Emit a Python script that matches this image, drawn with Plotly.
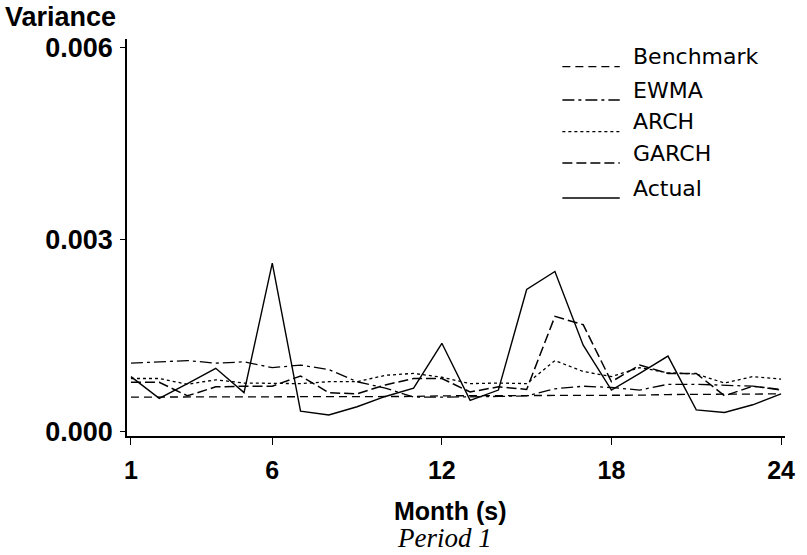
import plotly.graph_objects as go

# Monthly variance forecasts vs. realised variance, period 1
months = list(range(1, 25))

benchmark = [0.00054, 0.00054, 0.00054, 0.00054, 0.00054, 0.00054, 0.00055, 0.00055,
             0.00055, 0.00055, 0.00055, 0.00056, 0.00056, 0.00056, 0.00056, 0.00057,
             0.00057, 0.00057, 0.00057, 0.00058, 0.00058, 0.00058, 0.00059, 0.00059]
ewma = [0.00107, 0.00109, 0.00111, 0.00107, 0.00109, 0.00100, 0.00104, 0.00097,
        0.00078, 0.00068, 0.00054, 0.00054, 0.00054, 0.00055, 0.00056, 0.00067,
        0.00071, 0.00069, 0.00065, 0.00074, 0.00074, 0.00073, 0.00071, 0.00065]
arch = [0.00083, 0.00083, 0.00074, 0.00081, 0.00076, 0.00076, 0.00075, 0.00078,
        0.00078, 0.00088, 0.00091, 0.00085, 0.00075, 0.00076, 0.00075, 0.00111,
        0.00094, 0.00086, 0.00100, 0.00092, 0.00090, 0.00076, 0.00086, 0.00082]
garch = [0.00077, 0.00077, 0.00056, 0.00070, 0.00071, 0.00071, 0.00087, 0.00061,
         0.00059, 0.00073, 0.00083, 0.00083, 0.00062, 0.00070, 0.00066, 0.00180,
         0.00167, 0.00078, 0.00104, 0.00091, 0.00091, 0.00056, 0.00071, 0.00066]
actual = [0.00086, 0.00052, 0.00075, 0.00099, 0.00061, 0.00263, 0.00032, 0.00026,
          0.00039, 0.00055, 0.00068, 0.00138, 0.00049, 0.00065, 0.00222, 0.00250,
          0.00135, 0.00065, 0.00091, 0.00118, 0.00034, 0.00030, 0.00042, 0.00059]

series_names = ["Benchmark", "EWMA", "ARCH", "GARCH", "Actual"]
series_values = [benchmark, ewma, arch, garch, actual]
series_dash = ["8px,5px", "12px,4px,3px,4px", "3px,3px", "10px,4px", "solid"]
series_width = [1.3, 1.3, 1.3, 1.5, 1.4]

x_ticks = [1, 6, 12, 18, 24]
y_ticks = [0.0, 0.003, 0.006]
y_tick_labels = ["0.000", "0.003", "0.006"]

W, H = 807, 555
ML, MR, MT, MB = 127, 15, 39, 119
PW, PH = W - ML - MR, H - MT - MB


def px(xp):
    return (xp - ML) / PW


def py(yp):
    return (H - MB - yp) / PH


fig = go.Figure()
for name, vals, dash, lw in zip(series_names, series_values, series_dash, series_width):
    fig.add_trace(go.Scatter(
        x=months, y=vals, mode="lines", name=name,
        line=dict(color="black", width=lw, dash=dash),
        showlegend=False,
    ))

sans = "Liberation Sans"
key_font = "DejaVu Sans"

# Hand-drawn key in the upper right: line sample sitting on the text baseline
key_rows = [66.7, 100, 131.7, 163, 198]
shapes = []
annotations = []
for name, dash, lw, yl in zip(series_names, series_dash, series_width, key_rows):
    shapes.append(dict(type="line", xref="paper", yref="paper",
                       x0=px(567), x1=px(625), y0=py(yl), y1=py(yl),
                       line=dict(color="black", width=lw, dash=dash)))
    annotations.append(dict(text=name, xref="paper", yref="paper",
                            x=px(636), y=py(yl - 10), xanchor="left", yanchor="middle",
                            showarrow=False, font=dict(family=key_font, size=22, color="black")))

annotations += [
    dict(text="Variance", xref="paper", yref="paper", x=px(2), y=py(17),
         xanchor="left", yanchor="middle", showarrow=False,
         font=dict(family=sans, size=27, color="black", weight="bold")),
    dict(text="Month (s)", xref="paper", yref="paper", x=px(453), y=py(511),
         xanchor="center", yanchor="middle", showarrow=False,
         font=dict(family=sans, size=25, color="black", weight="bold")),
    dict(text="<i>Period 1</i>", xref="paper", yref="paper", x=px(448), y=py(538),
         xanchor="center", yanchor="middle", showarrow=False,
         font=dict(family="Liberation Serif", size=27, color="black")),
]

fig.update_layout(
    width=W, height=H,
    margin=dict(l=ML, r=MR, t=MT, b=MB, pad=0),
    paper_bgcolor="white", plot_bgcolor="white",
    shapes=shapes, annotations=annotations,
    xaxis=dict(range=[0.86, 24.14], tickvals=x_ticks, ticks="outside", ticklen=7,
               tickwidth=1.2, tickcolor="black", showline=True, linecolor="black",
               linewidth=1.5, showgrid=False, zeroline=False, ticklabelstandoff=4,
               tickfont=dict(family=sans, size=25, color="black", weight="bold")),
    yaxis=dict(range=[-0.0000671, 0.006129], tickvals=y_ticks, ticktext=y_tick_labels,
               ticks="outside", ticklen=5, tickwidth=1.2, tickcolor="black",
               showline=True, linecolor="black", linewidth=1.5, showgrid=False,
               zeroline=False, ticklabelstandoff=2,
               tickfont=dict(family=sans, size=27, color="black", weight="bold")),
)

fig.write_html("out.html")
